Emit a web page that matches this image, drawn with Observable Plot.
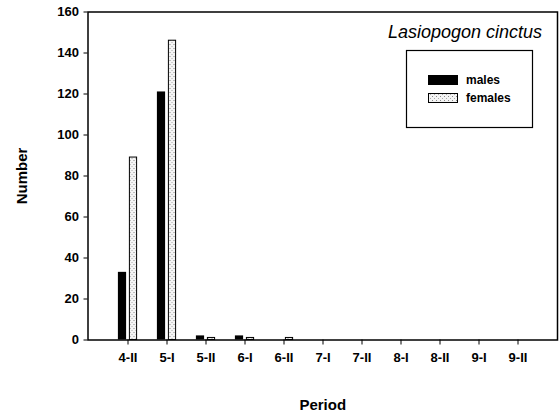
<!DOCTYPE html>
<html>
<head>
<meta charset="utf-8">
<script src="https://cdn.jsdelivr.net/npm/d3@7"></script>
<script src="https://cdn.jsdelivr.net/npm/@observablehq/plot@0.6"></script>
<style>
  body { margin: 0; background: #fff; }
  #chart svg { font-family: "Liberation Sans", Arial, sans-serif; display: block; }
  #chart g[aria-label="y-axis label"] text,
  #chart g[aria-label="x-axis label"] text { font-size: 15px; font-weight: bold; }
</style>
</head>
<body>
<div id="chart"></div>
<script>
const periods = ["4-II","5-I","5-II","6-I","6-II","7-I","7-II","8-I","8-II","9-I","9-II"];
const males   = [33, 121, 2, 2, 0, 0, 0, 0, 0, 0, 0];
const females = [89, 146, 1, 1, 1, 0, 0, 0, 0, 0, 0];
const yTicks = [0, 20, 40, 60, 80, 100, 120, 140, 160];
const series = ["males", "females"];
const title = "Lasiopogon cinctus";

const maleRows = periods.map((p, i) => ({period: p, value: males[i]}));
const femaleRows = periods.map((p, i) => ({period: p, value: females[i]}));

const barInset = 15.4;
const plot = Plot.plot({
  width: 560,
  height: 413,
  marginTop: 11.5,
  marginBottom: 73.5,
  marginLeft: 87.5,
  marginRight: 3,
  style: {fontFamily: "Liberation Sans, Arial, sans-serif", fontSize: "13px", fontWeight: "bold", color: "black"},
  x: {domain: periods, padding: 0, insetLeft: 18.8, insetRight: 18.3},
  y: {domain: [0, 160]},
  marks: [
    Plot.frame({stroke: "black", strokeWidth: 1.5}),
    Plot.barY(maleRows, {x: "period", y: "value", filter: d => d.value > 0, fill: "black", insetLeft: barInset, insetRight: barInset, dx: -5.5}),
    Plot.barY(femaleRows, {x: "period", y: "value", filter: d => d.value > 0, fill: "url(#stipple)", stroke: "black", strokeWidth: 1, insetLeft: barInset + 0.5, insetRight: barInset + 0.5, dx: 5.5}),
    Plot.axisY({ticks: yTicks, tickSize: 4, tickPadding: 5, fontSize: 13, fontWeight: "bold", label: "Number", labelAnchor: "center", labelArrow: "none", labelOffset: 72}),
    Plot.axisX({tickSize: 5, tickPadding: 8, fontSize: 13, fontWeight: "bold", label: "Period", labelAnchor: "center", labelArrow: "none", labelOffset: 70})
  ]
});

const svg = d3.select(plot);
const defs = svg.insert("defs", ":first-child");
const pat = defs.append("pattern").attr("id", "stipple").attr("patternUnits", "userSpaceOnUse").attr("width", 4).attr("height", 4);
pat.append("rect").attr("width", 4).attr("height", 4).attr("fill", "#f4f4f4");
pat.append("rect").attr("x", 0).attr("y", 0).attr("width", 1).attr("height", 1).attr("fill", "#888");
pat.append("rect").attr("x", 2).attr("y", 2).attr("width", 1).attr("height", 1).attr("fill", "#aaa");

// title (species name) and legend inside the frame
svg.append("text").attr("x", 542).attr("y", 38).attr("text-anchor", "end")
  .style("font-size", "18px").style("font-style", "italic").style("font-weight", "normal")
  .text(title);
const lg = svg.append("g");
lg.append("rect").attr("x", 406.5).attr("y", 50.5).attr("width", 126).attr("height", 77)
  .attr("fill", "white").attr("stroke", "black").attr("stroke-width", 1.2);
const fills = ["black", "url(#stipple)"];
series.forEach((s, i) => {
  const cy = 80 + i * 18;
  lg.append("rect").attr("x", 428.5).attr("y", cy - 4.5).attr("width", 29).attr("height", 9)
    .attr("fill", fills[i]).attr("stroke", "black").attr("stroke-width", 1);
  lg.append("text").attr("x", 466).attr("y", cy).attr("dy", "0.35em").attr("text-anchor", "start")
    .style("font-size", "12px").style("font-weight", "bold").text(s);
});

document.getElementById("chart").appendChild(plot);
</script>
</body>
</html>
